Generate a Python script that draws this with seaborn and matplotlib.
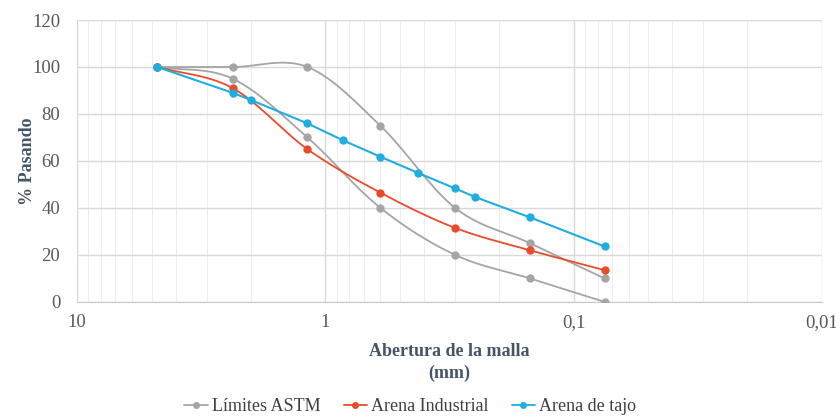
import numpy as np
import matplotlib
matplotlib.use('Agg')
import matplotlib.pyplot as plt
import seaborn as sns
from matplotlib.ticker import LogLocator, FixedLocator, FixedFormatter, NullFormatter

# Datos de la curva granulométrica
abertura_astm = [4.75, 2.36, 1.18, 0.6, 0.3, 0.15, 0.075]
astm_superior = [100, 100, 100, 75, 40, 25, 10]
astm_inferior = [100, 95, 70, 40, 20, 10, 0]

abertura_industrial = [4.75, 2.36, 1.18, 0.6, 0.3, 0.15, 0.075]
arena_industrial = [100, 91, 65, 46.5, 31.5, 22, 13.5]

abertura_tajo = [4.75, 2.36, 2.0, 1.18, 0.85, 0.6, 0.425, 0.3, 0.25, 0.15, 0.075]
arena_tajo = [100, 89, 86, 76, 68.8, 61.8, 55, 48.3, 44.7, 36, 23.6]

GRIS = '#A5A5A5'
ROJO = '#EA4B2A'
CELESTE = '#1FAEDF'
TEXTO = '#44546A'


def suavizar(x, y, n=30):
    # curva suavizada tipo Excel (Catmull-Rom) en espacio log
    lx = np.log10(np.array(x, dtype=float))
    y = np.array(y, dtype=float)
    px = np.concatenate([[2 * lx[0] - lx[1]], lx, [2 * lx[-1] - lx[-2]]])
    py = np.concatenate([[2 * y[0] - y[1]], y, [2 * y[-1] - y[-2]]])
    xs, ys = [], []
    t = np.linspace(0, 1, n)
    for i in range(1, len(px) - 2):
        p0, p1, p2, p3 = [np.array([px[j], py[j]]) for j in (i - 1, i, i + 1, i + 2)]
        c1 = p1 + (p2 - p0) / 6
        c2 = p2 - (p3 - p1) / 6
        b = ((1 - t) ** 3)[:, None] * p1 + (3 * (1 - t) ** 2 * t)[:, None] * c1 \
            + (3 * (1 - t) * t ** 2)[:, None] * c2 + (t ** 3)[:, None] * p2
        xs.extend(b[:, 0])
        ys.extend(b[:, 1])
    return 10 ** np.array(xs), np.array(ys)


sns.set_style('white')
plt.rcParams['font.family'] = ['Liberation Serif', 'DejaVu Serif']

fig = plt.figure(figsize=(8.37, 4.17), dpi=100)
ax = fig.add_axes([0.092, 0.276, 0.890, 0.676])

for vals in (astm_superior, astm_inferior):
    sx, sy = suavizar(abertura_astm, vals)
    ax.plot(sx, sy, color=GRIS, lw=1.3, zorder=3)
    ax.plot(abertura_astm, vals, 'o', color=GRIS, ms=5, zorder=4)

sx, sy = suavizar(abertura_industrial, arena_industrial)
ax.plot(sx, sy, color=ROJO, lw=1.3, zorder=3)
ax.plot(abertura_industrial, arena_industrial, 'o', color=ROJO, ms=5, zorder=4)

ax.plot(abertura_tajo, arena_tajo, '-o', color=CELESTE, lw=1.5, ms=5, zorder=5)

ax.set_xscale('log')
ax.set_xlim(10, 0.01)
ax.set_ylim(0, 120)
ax.yaxis.set_major_locator(FixedLocator([0, 20, 40, 60, 80, 100, 120]))
ax.xaxis.set_major_locator(FixedLocator([10, 1, 0.1, 0.01]))
ax.xaxis.set_major_formatter(FixedFormatter(['10', '1', '0,1', '0,01']))
ax.xaxis.set_minor_locator(LogLocator(base=10, subs=np.arange(2, 10), numticks=20))
ax.xaxis.set_minor_formatter(NullFormatter())

ax.grid(True, which='major', color='#D9D9D9', lw=1)
ax.grid(True, which='minor', axis='x', color='#EEEEEE', lw=0.8)
for s in ('top', 'right', 'left'):
    ax.spines[s].set_visible(False)
ax.spines['bottom'].set_color('#C8C8C8')
ax.tick_params(axis='both', which='both', length=0, labelsize=13.5, labelcolor='#595959')
ax.tick_params(axis='x', pad=9)
ax.tick_params(axis='y', pad=12)

ax.set_ylabel('% Pasando', fontsize=13, fontweight='bold', color=TEXTO, labelpad=-3)
ax.set_xlabel('Abertura de la malla\n(mm)', fontsize=13, fontweight='bold',
              color=TEXTO, labelpad=8, linespacing=1.4)

handles = [
    plt.Line2D([], [], color=GRIS, marker='o', ms=4, lw=1.3),
    plt.Line2D([], [], color=ROJO, marker='o', ms=4, lw=1.3),
    plt.Line2D([], [], color=CELESTE, marker='o', ms=4, lw=1.3),
]
fig.legend(handles, ['Límites ASTM', 'Arena Industrial', 'Arena de tajo'],
           loc='lower center', bbox_to_anchor=(0.49, -0.035), ncol=3, frameon=False,
           fontsize=13, handlelength=1.3, handletextpad=0.2, columnspacing=1.3,
           labelcolor='#404040')

fig.savefig('out.png', dpi=100, facecolor='white')
